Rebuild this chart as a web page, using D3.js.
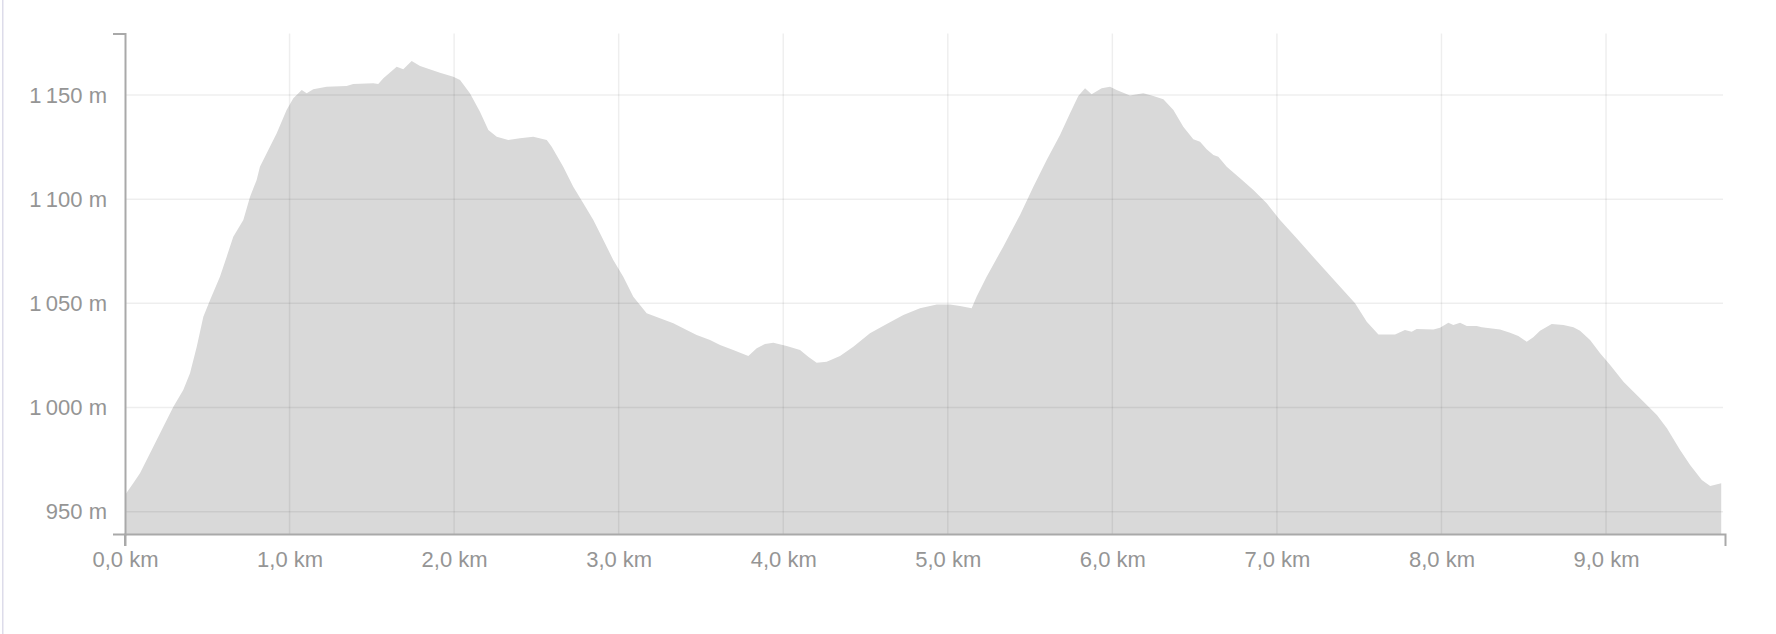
<!DOCTYPE html>
<html>
<head>
<meta charset="utf-8">
<script src="https://cdn.jsdelivr.net/npm/d3@7"></script>
<style>
  body { margin: 0; background: #fff; }
  svg { display: block; font-family: Inter, "Noto Sans", sans-serif; }
</style>
</head>
<body>
<div id="chart"></div>
<script>
const WIDTH = 1776;
const HEIGHT = 634;

// distance along the route (km) and elevation (m)
const distanceKm = [
  0.000, 0.050, 0.091, 0.172, 0.233, 0.294, 0.354, 0.395, 0.436, 0.476,
  0.517, 0.577, 0.618, 0.658, 0.719, 0.760, 0.800, 0.820, 0.871, 0.922,
  0.982, 1.023, 1.074, 1.104, 1.144, 1.225, 1.347, 1.387, 1.509, 1.539,
  1.570, 1.651, 1.691, 1.742, 1.793, 1.914, 1.995, 2.036, 2.096, 2.157,
  2.208, 2.259, 2.329, 2.400, 2.481, 2.563, 2.593, 2.663, 2.724, 2.785,
  2.846, 2.897, 2.967, 3.028, 3.089, 3.170, 3.251, 3.332, 3.413, 3.474,
  3.555, 3.616, 3.696, 3.788, 3.839, 3.889, 3.940, 4.021, 4.102, 4.152,
  4.203, 4.264, 4.345, 4.426, 4.527, 4.629, 4.730, 4.831, 4.933, 5.013,
  5.074, 5.145, 5.175, 5.236, 5.337, 5.439, 5.520, 5.601, 5.682, 5.743,
  5.793, 5.834, 5.874, 5.935, 5.986, 6.026, 6.107, 6.188, 6.249, 6.310,
  6.371, 6.431, 6.492, 6.533, 6.573, 6.614, 6.644, 6.695, 6.776, 6.857,
  6.938, 7.019, 7.120, 7.201, 7.262, 7.384, 7.475, 7.546, 7.617, 7.718,
  7.778, 7.819, 7.849, 7.951, 7.991, 8.042, 8.072, 8.113, 8.154, 8.214,
  8.245, 8.356, 8.417, 8.467, 8.518, 8.558, 8.599, 8.670, 8.741, 8.802,
  8.842, 8.903, 8.964, 9.025, 9.106, 9.167, 9.248, 9.309, 9.370, 9.450,
  9.511, 9.582, 9.633, 9.700
];
const elevationM = [
  958.0, 963.6, 968.4, 981.2, 990.8, 1000.4, 1008.4, 1016.4, 1029.2, 1043.6,
  1051.6, 1062.8, 1072.4, 1082.0, 1090.0, 1101.2, 1109.2, 1115.6, 1123.6, 1131.6,
  1142.8, 1148.4, 1152.4, 1150.8, 1152.7, 1154.0, 1154.3, 1155.3, 1155.6, 1155.3,
  1158.0, 1163.6, 1162.3, 1166.3, 1163.9, 1160.7, 1158.8, 1157.2, 1150.8, 1142.0,
  1133.2, 1130.0, 1128.4, 1129.2, 1130.0, 1128.4, 1125.2, 1115.6, 1106.0, 1098.0,
  1090.0, 1082.0, 1070.8, 1062.8, 1053.2, 1045.2, 1042.8, 1040.4, 1037.2, 1034.8,
  1032.4, 1030.0, 1027.6, 1024.7, 1028.4, 1030.5, 1031.1, 1029.5, 1027.6, 1024.4,
  1021.5, 1022.0, 1024.7, 1029.2, 1035.6, 1040.1, 1044.4, 1047.6, 1049.5, 1049.5,
  1048.7, 1047.6, 1053.2, 1062.8, 1077.2, 1092.4, 1106.0, 1118.8, 1130.8, 1141.2,
  1149.5, 1153.2, 1150.3, 1153.2, 1154.0, 1152.4, 1149.7, 1150.8, 1149.5, 1147.9,
  1142.8, 1134.8, 1128.7, 1127.6, 1123.9, 1121.2, 1120.4, 1115.6, 1110.0, 1104.4,
  1098.0, 1090.0, 1081.2, 1074.0, 1068.6, 1058.0, 1050.0, 1041.2, 1035.1, 1035.1,
  1037.2, 1036.4, 1037.7, 1037.5, 1038.3, 1040.7, 1039.6, 1040.7, 1039.1, 1039.1,
  1038.5, 1037.5, 1035.9, 1034.3, 1031.6, 1033.7, 1036.9, 1040.1, 1039.6, 1038.5,
  1036.9, 1032.4, 1026.0, 1020.4, 1012.4, 1007.6, 1001.2, 996.4, 990.0, 979.6,
  972.4, 965.2, 962.3, 963.6
];

// axis ticks
const xTicks = [0, 1, 2, 3, 4, 5, 6, 7, 8, 9];
const yTicks = [950, 1000, 1050, 1100, 1150];

const X_DOMAIN = [0, 9.723];
const Y_DOMAIN = [939.3, 1179.5];

const margin = { top: 33.5, right: 51, bottom: 100, left: 125 };
const innerW = WIDTH - margin.left - margin.right;
const innerH = HEIGHT - margin.top - margin.bottom;

// number format: narrow space thousands, decimal comma
const locale = d3.formatLocale({
  decimal: ",",
  thousands: "\u202f",
  grouping: [3],
  currency: ["", " kr"]
});
const fmtM = locale.format(",.0f");
const fmtKm = locale.format(".1f");

const svg = d3.select("#chart")
  .append("svg")
  .attr("width", WIDTH)
  .attr("height", HEIGHT);

// thin container border on the left
svg.append("rect")
  .attr("x", 2)
  .attr("y", 0)
  .attr("width", 1.5)
  .attr("height", HEIGHT)
  .attr("fill", "#dddcea");

const g = svg.append("g")
  .attr("transform", `translate(${margin.left},${margin.top})`);

const x = d3.scaleLinear().domain(X_DOMAIN).range([0, innerW]);
const y = d3.scaleLinear().domain(Y_DOMAIN).range([innerH, 0]);

const points = distanceKm.map((d, i) => [d, elevationM[i]]);

const area = d3.area()
  .x(d => x(d[0]))
  .y0(innerH)
  .y1(d => y(d[1]));

g.append("path")
  .datum(points)
  .attr("d", area)
  .attr("fill", "#d9d9d9");

// --------------- gridlines (drawn over the area) ---------------
g.append("g")
  .selectAll("line")
  .data(yTicks)
  .enter()
  .append("line")
  .attr("x1", 0)
  .attr("x2", innerW - 2)
  .attr("y1", d => y(d))
  .attr("y2", d => y(d))
  .attr("stroke", "rgba(0,0,0,0.065)")
  .attr("stroke-width", 1.5);

g.append("g")
  .selectAll("line")
  .data(xTicks.filter(d => d > 0))
  .enter()
  .append("line")
  .attr("x1", d => x(d))
  .attr("x2", d => x(d))
  .attr("y1", 0)
  .attr("y2", innerH)
  .attr("stroke", "rgba(0,0,0,0.065)")
  .attr("stroke-width", 1.5);

// --------------- axes ---------------
const yAxis = d3.axisLeft(y)
  .tickValues(yTicks)
  .tickSizeInner(0)
  .tickSizeOuter(12)
  .tickPadding(18)
  .tickFormat(d => fmtM(d) + " m");

const xAxis = d3.axisBottom(x)
  .tickValues(xTicks)
  .tickSizeInner(0)
  .tickSizeOuter(12)
  .tickPadding(17)
  .tickFormat(d => fmtKm(d) + " km");

function styleAxis(sel) {
  sel.select(".domain")
    .attr("stroke", "#a9a9a9")
    .attr("stroke-width", 2);
  sel.selectAll(".tick line").remove();
  sel.selectAll("text")
    .attr("fill", "#959595")
    .style("font-size", "22px");
}

g.append("g").call(yAxis).call(styleAxis);

g.append("g")
  .attr("transform", `translate(0,${innerH})`)
  .call(xAxis)
  .call(styleAxis);

// first x tick sits on the y axis: show its small tick down
g.append("line")
  .attr("x1", x(0))
  .attr("x2", x(0))
  .attr("y1", innerH)
  .attr("y2", innerH + 12)
  .attr("stroke", "#a9a9a9")
  .attr("stroke-width", 2);
</script>
</body>
</html>
